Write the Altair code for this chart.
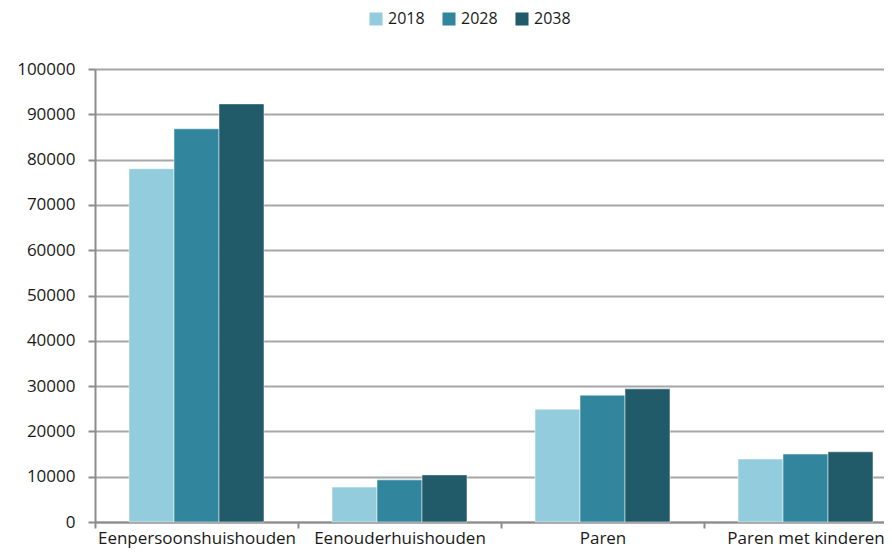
import altair as alt
import pandas as pd

categories = ["Eenpersoonshuishouden", "Eenouderhuishouden", "Paren", "Paren met kinderen"]
years = ["2018", "2028", "2038"]
values_2018 = [78000, 7700, 24900, 13900]
values_2028 = [86800, 9300, 28000, 15000]
values_2038 = [92300, 10400, 29400, 15500]
colors = ["#93CDDD", "#31869D", "#215A69"]

rows = []
for yr, vals in zip(years, [values_2018, values_2028, values_2038]):
    for c, v in zip(categories, vals):
        rows.append({"categorie": c, "jaar": yr, "aantal": v})
df = pd.DataFrame(rows)

FONT = "Open Sans"

chart = alt.Chart(df).mark_bar(stroke="white", strokeWidth=0.5).encode(
    x=alt.X("categorie:N", sort=categories, title=None,
            scale=alt.Scale(range=[0, 812], paddingInner=0, paddingOuter=0),
            axis=alt.Axis(labelAngle=0, labelFontSize=17, labelColor="#1a1a1a", labelFont=FONT,
                          labelPadding=2, labelLimit=0, tickBand="extent", tickSize=6,
                          tickColor="#8c8c8c", tickWidth=2, domainColor="#8c8c8c",
                          domainWidth=2, grid=False)),
    xOffset=alt.XOffset("jaar:N", sort=years,
                        scale=alt.Scale(paddingInner=0, paddingOuter=0.756)),
    y=alt.Y("aantal:Q", title=None,
            scale=alt.Scale(domain=[0, 100000], nice=False),
            axis=alt.Axis(values=list(range(0, 100001, 10000)), format="d", labelFontSize=17,
                          labelColor="#1a1a1a", labelFont=FONT, labelPadding=13, tickSize=7,
                          tickColor="#8c8c8c", tickWidth=2, domainColor="#8c8c8c", domainWidth=2,
                          gridColor="#a6a6a6", gridWidth=2)),
    color=alt.Color("jaar:N", sort=years, scale=alt.Scale(domain=years, range=colors),
                    legend=alt.Legend(title="\u00a0", titleOrient="left", titlePadding=273,
                                      titleColor="#ffffff", titleFontSize=16,
                                      orient="top", direction="horizontal",
                                      offset=42, symbolType="square",
                                      symbolSize=170, symbolStrokeWidth=0, labelFontSize=16,
                                      labelFont=FONT, labelColor="#1a1a1a", columnPadding=16,
                                      labelOffset=4, labelLimit=200)),
).properties(
    width=789, height=453,
    autosize=alt.AutoSizeParams(type="none"),
    padding={"left": 87, "top": 61, "right": 0, "bottom": 30},
).configure_view(stroke=None)

chart.save("out.html", embed_options={"renderer": "svg", "actions": False})
